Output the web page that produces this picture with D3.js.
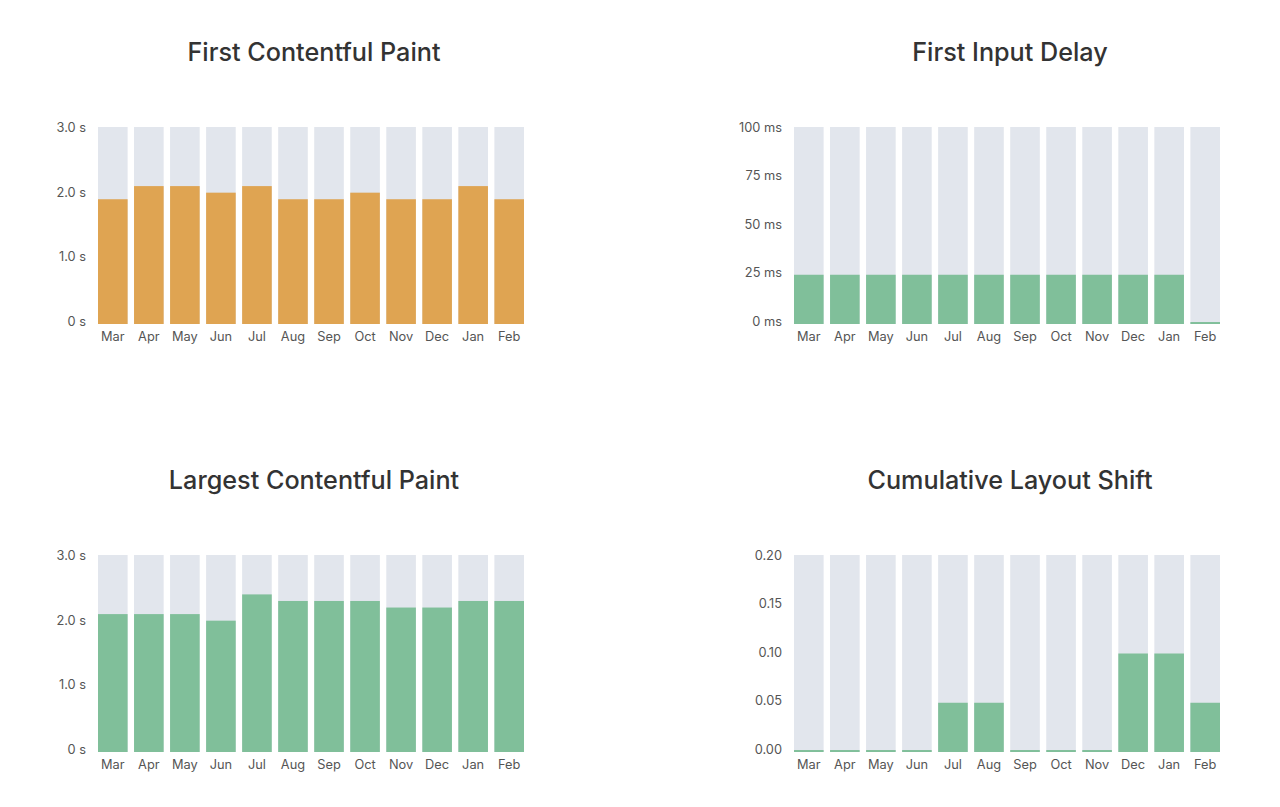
<!DOCTYPE html>
<html>
<head>
<meta charset="utf-8">
<script src="https://cdn.jsdelivr.net/npm/d3@7"></script>
<style>
  html, body { margin: 0; padding: 0; background: #ffffff; }
  svg { display: block; }
  .title { font-family: Inter, "Noto Sans", sans-serif; font-weight: 500; font-size: 25.2px; fill: #333333; }
  .tick text { font-family: Inter, "Noto Sans", sans-serif; font-size: 12.8px; fill: #555555; }
</style>
</head>
<body>
<svg id="chart" width="1280" height="807"></svg>
<script>
const months = ["Mar","Apr","May","Jun","Jul","Aug","Sep","Oct","Nov","Dec","Jan","Feb"];

const fcpValues = [1.9, 2.1, 2.1, 2.0, 2.1, 1.9, 1.9, 2.0, 1.9, 1.9, 2.1, 1.9];
const fidValues = [25, 25, 25, 25, 25, 25, 25, 25, 25, 25, 25, 1];
const lcpValues = [2.1, 2.1, 2.1, 2.0, 2.4, 2.3, 2.3, 2.3, 2.2, 2.2, 2.3, 2.3];
const clsValues = [0.002, 0.002, 0.002, 0.002, 0.05, 0.05, 0.002, 0.002, 0.002, 0.1, 0.1, 0.05];

const secTicks = [0, 1, 2, 3];
const msTicks = [0, 25, 50, 75, 100];
const clsTicks = [0, 0.05, 0.10, 0.15, 0.20];

const orange = "#dfa452";
const green = "#80bf9a";
const track = "#e2e6ed";

const svg = d3.select("#chart");

const panels = [
  { title: "First Contentful Paint", values: fcpValues, max: 3, ticks: secTicks,
    fmt: d => d === 0 ? "0 s" : d3.format(".1f")(d) + " s", color: orange,
    x0: 98, x1: 524, top: 127, bottom: 324, titleX: 314, titleY: 61 },
  { title: "First Input Delay", values: fidValues, max: 100, ticks: msTicks,
    fmt: d => d + " ms", color: green,
    x0: 794, x1: 1220, top: 127, bottom: 324, titleX: 1010, titleY: 61 },
  { title: "Largest Contentful Paint", values: lcpValues, max: 3, ticks: secTicks,
    fmt: d => d === 0 ? "0 s" : d3.format(".1f")(d) + " s", color: green,
    x0: 98, x1: 524, top: 555, bottom: 752, titleX: 314, titleY: 489 },
  { title: "Cumulative Layout Shift", values: clsValues, max: 0.2, ticks: clsTicks,
    fmt: d3.format(".2f"), color: green,
    x0: 794, x1: 1220, top: 555, bottom: 752, titleX: 1010, titleY: 489 }
];

panels.forEach(p => {
  const g = svg.append("g");

  g.append("text").attr("class", "title")
    .attr("x", p.titleX).attr("y", p.titleY)
    .attr("text-anchor", "middle")
    .text(p.title);

  const x = d3.scaleBand().domain(months).range([p.x0, p.x1]).paddingInner(0.178).paddingOuter(0);
  const y = d3.scaleLinear().domain([0, p.max]).range([p.bottom, p.top]);
  const yLab = y.copy().range([p.bottom - 3, p.top]);

  // background tracks
  g.selectAll("rect.track").data(months).join("rect")
    .attr("class", "track")
    .attr("x", d => x(d)).attr("width", x.bandwidth())
    .attr("y", y(p.max)).attr("height", y(0) - y(p.max))
    .attr("fill", track);

  // value bars
  g.selectAll("rect.bar").data(p.values).join("rect")
    .attr("class", "bar")
    .attr("x", (d, i) => x(months[i])).attr("width", x.bandwidth())
    .attr("y", d => y(d)).attr("height", d => y(0) - y(d))
    .attr("fill", p.color);

  // y axis
  const yAxis = g.append("g")
    .attr("transform", `translate(${p.x0 - 12},0)`)
    .call(d3.axisLeft(yLab).tickValues(p.ticks).tickFormat(p.fmt).tickSize(0).tickPadding(0));
  yAxis.select(".domain").remove();
  yAxis.selectAll(".tick text").attr("dy", "0.35em");

  // x axis
  const xAxis = g.append("g")
    .attr("transform", `translate(0,${p.bottom})`)
    .call(d3.axisBottom(x).tickSize(0).tickPadding(8));
  xAxis.select(".domain").remove();
});
</script>
</body>
</html>
